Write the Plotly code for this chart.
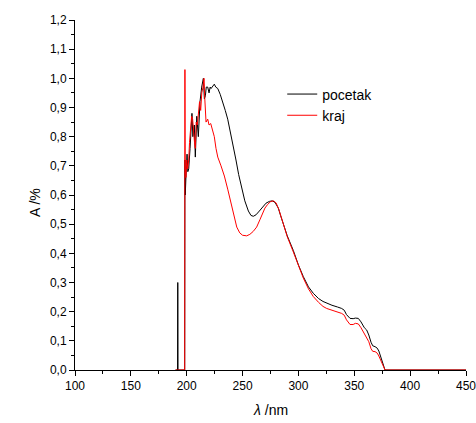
import plotly.graph_objects as go

# pocetak (black)
wl_pocetak = [190, 191.8, 192.0, 192.2, 198.2, 198.4, 198.7, 199.3, 200.3, 201.0, 201.8, 203.0, 204.0, 204.7,
              205.5, 206.8, 207.7, 209.0, 210.4, 211.9, 213.4, 214.9, 215.8, 216.7, 217.5, 218.8, 220.0,
              221.0, 221.8, 223.0, 224.7, 226.0, 227.8, 230.0, 232.2, 234.5, 236.7, 239.0, 241.2, 244.1,
              246.5, 249.2, 252.0, 255.2, 257.5, 259.6, 262.0, 265.0, 268.0, 271.0, 274.0, 276.5, 279.0,
              282.0, 284.0, 286.5, 290.0, 295.4, 300.0, 304.4, 309.0, 313.3, 318.0, 322.0, 325.3, 330.0,
              335.0, 338.7, 341.0, 343.0, 346.2, 349.0, 351.0, 353.6, 356.0, 359.0, 361.1, 363.0, 365.0,
              366.5, 368.6, 370.5, 372.0, 374.0, 376.0, 377.5, 450]
a_pocetak = [0, 0, 0.30, 0, 0, 0.72, 0.60, 0.66, 0.74, 0.68, 0.69, 0.76, 0.83, 0.88,
             0.80, 0.84, 0.73, 0.87, 0.80, 0.92, 0.97, 1.00, 0.93, 0.94, 0.97, 0.97, 0.95,
             0.97, 0.965, 0.97, 0.98, 0.97, 0.965, 0.945, 0.92, 0.89, 0.86, 0.82, 0.78, 0.72,
             0.67, 0.63, 0.58, 0.545, 0.53, 0.527, 0.532, 0.545, 0.56, 0.572, 0.578, 0.580, 0.575,
             0.555, 0.53, 0.503, 0.46, 0.41, 0.36, 0.32, 0.285, 0.263, 0.245, 0.235, 0.229, 0.222,
             0.216, 0.211, 0.205, 0.19, 0.177, 0.176, 0.178, 0.177, 0.165, 0.145, 0.137, 0.12, 0.095,
             0.083, 0.08, 0.075, 0.065, 0.04, 0.015, 0, 0]

# kraj (red)
wl_kraj = [190, 198.2, 198.4, 198.6, 199.3, 200.0, 200.8, 201.8, 202.5, 203.5, 204.4, 205.3, 206.2, 207.0,
           207.7, 208.5, 209.5, 210.5, 211.5, 212.5, 213.5, 214.6, 215.5, 216.2, 217.3, 218.8, 220.0,
           221.5, 223.0, 224.7, 226.2, 227.8, 230.7, 233.7, 236.7, 239.7, 242.0, 244.8, 247.5, 250.0,
           253.7, 256.5, 259.5, 262.6, 265.5, 268.0, 270.0, 272.5, 275.0, 277.6, 280.0, 282.5, 284.5,
           287.0, 290.0, 295.4, 300.0, 304.4, 309.0, 313.3, 318.0, 322.0, 325.3, 330.0, 335.0, 338.7,
           341.0, 343.0, 346.2, 349.0, 351.0, 353.6, 356.0, 359.0, 361.1, 363.0, 365.0, 366.5, 368.6,
           370.5, 372.0, 374.0, 376.0, 377.5, 450]
a_kraj = [0, 0, 1.03, 0.70, 0.66, 0.72, 0.69, 0.72, 0.78, 0.82, 0.87, 0.86, 0.80, 0.78,
          0.76, 0.85, 0.84, 0.88, 0.92, 0.89, 0.95, 0.97, 1.00, 0.93, 0.85, 0.86, 0.84,
          0.845, 0.82, 0.80, 0.76, 0.73, 0.70, 0.665, 0.62, 0.574, 0.53, 0.49, 0.47, 0.462,
          0.46, 0.465, 0.475, 0.49, 0.515, 0.54, 0.555, 0.568, 0.577, 0.58, 0.573, 0.55, 0.525,
          0.495, 0.457, 0.405, 0.357, 0.315, 0.278, 0.252, 0.232, 0.218, 0.211, 0.205, 0.199, 0.194,
          0.188, 0.172, 0.156, 0.156, 0.16, 0.158, 0.145, 0.125, 0.114, 0.097, 0.073, 0.064, 0.063,
          0.058, 0.048, 0.03, 0.01, 0, 0]

series_names = ["pocetak", "kraj"]
x_ticks = [100, 150, 200, 250, 300, 350, 400, 450]
y_ticks = [0.0, 0.1, 0.2, 0.3, 0.4, 0.5, 0.6, 0.7, 0.8, 0.9, 1.0, 1.1, 1.2]
x_title = "<i>λ</i> /nm"
y_title = "A /%"

FONT = "Arial, Liberation Sans, sans-serif"

fig = go.Figure()
fig.add_trace(go.Scatter(x=wl_pocetak, y=a_pocetak, mode="lines", name=series_names[0],
                         line=dict(color="black", width=1)))
fig.add_trace(go.Scatter(x=wl_kraj, y=a_kraj, mode="lines", name=series_names[1],
                         line=dict(color="#ff0000", width=1)))

axis_common = dict(showline=True, linecolor="black", linewidth=1, ticks="outside", ticklen=5,
                   tickwidth=1, tickcolor="black", showgrid=False, zeroline=False, mirror=False,
                   automargin=False, ticklabeloverflow="allow",
                   tickfont=dict(family=FONT, size=12, color="black"), layer="below traces")

fig.update_xaxes(range=[100, 450], tickvals=x_ticks, ticktext=[str(v) for v in x_ticks],
                 minor=dict(ticks="outside", ticklen=3, tickvals=[125, 175, 225, 275, 325, 375, 425],
                            tickcolor="black", showgrid=False),
                 **axis_common)
fig.update_yaxes(range=[0, 1.2], tickvals=y_ticks, ticktext=[f"{v:.1f}".replace(".", ",") for v in y_ticks],
                 minor=dict(ticks="outside", ticklen=3, tickvals=[v + 0.05 for v in y_ticks[:-1]],
                            tickcolor="black", showgrid=False),
                 **axis_common)

# axis titles as annotations for exact placement (plot area 391 x 350 px)
fig.add_annotation(text=x_title, xref="paper", yref="paper", x=0.5, y=-40 / 350,
                   xanchor="center", yanchor="middle", showarrow=False,
                   font=dict(family=FONT, size=14, color="black"))
fig.add_annotation(text=y_title, xref="paper", yref="paper", x=-40 / 391, y=0.477,
                   xanchor="center", yanchor="middle", showarrow=False, textangle=-90,
                   font=dict(family=FONT, size=14, color="black"))

fig.update_layout(
    width=476, height=423,
    margin=dict(l=75, r=10, t=20, b=53),
    paper_bgcolor="white", plot_bgcolor="white",
    font=dict(family=FONT, size=12, color="black"),
    showlegend=True,
    legend=dict(x=0.53, y=0.833, xanchor="left", yanchor="top", bgcolor="rgba(0,0,0,0)",
                font=dict(family=FONT, size=14, color="black"), tracegroupgap=0),
)

# remove the default 8px page margin so the figure fills the window exactly
fig.write_html("out.html", config={"displayModeBar": False},
               post_script="document.body.style.margin='0';document.body.style.overflow='hidden';")
